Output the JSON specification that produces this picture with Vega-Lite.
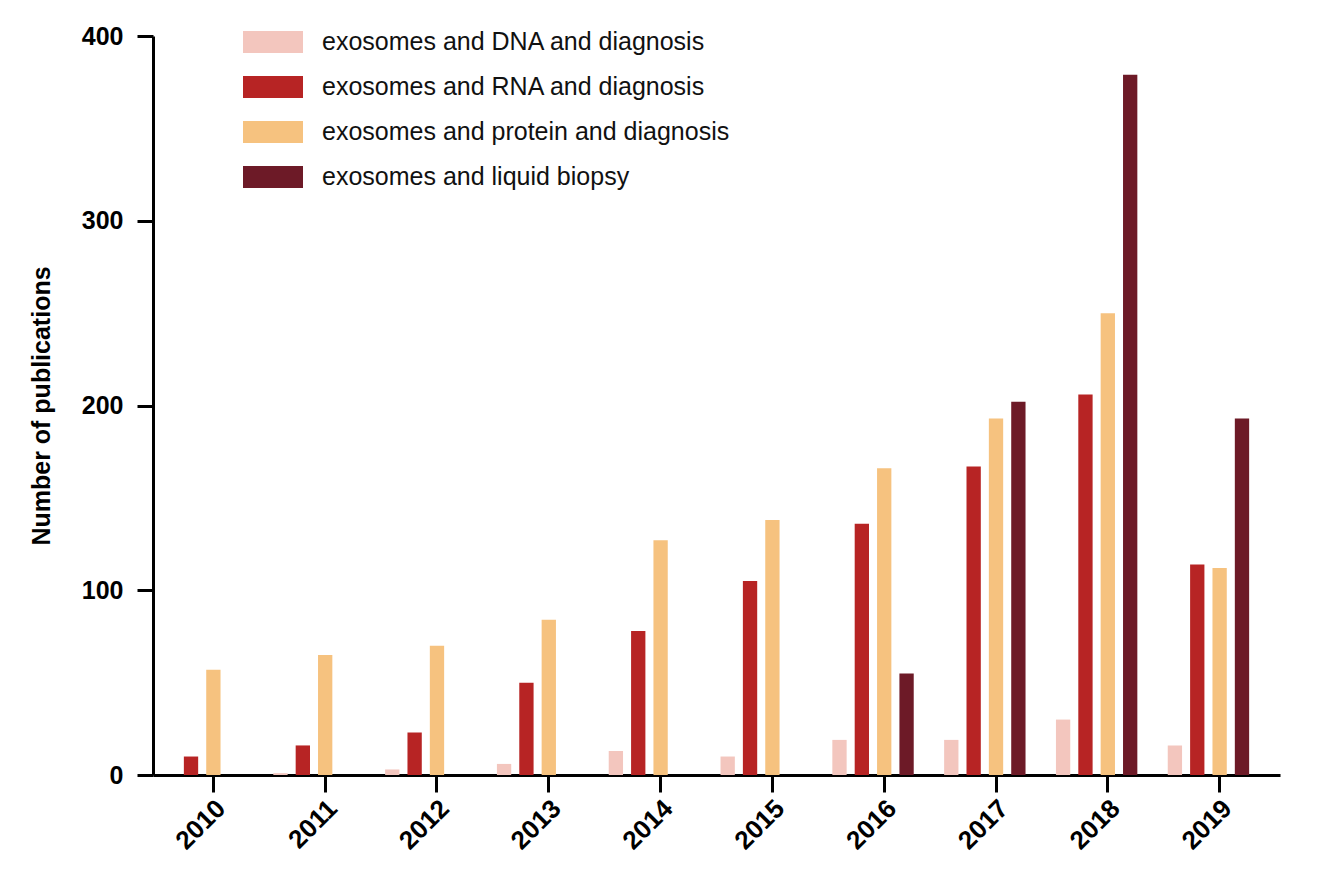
{
  "$schema": "https://vega.github.io/schema/vega-lite/v6.json",
  "width": 1127,
  "height": 739,
  "autosize": "none",
  "padding": {"left": 153, "top": 36, "right": 38, "bottom": 106},
  "background": "white",
  "config": {
    "view": {"stroke": null},
    "font": "Liberation Sans"
  },
  "data": {
    "values": [
      {"year": "2010", "query": "exosomes and DNA and diagnosis", "count": 0},
      {"year": "2010", "query": "exosomes and RNA and diagnosis", "count": 10},
      {"year": "2010", "query": "exosomes and protein and diagnosis", "count": 57},
      {"year": "2010", "query": "exosomes and liquid biopsy", "count": 0},
      {"year": "2011", "query": "exosomes and DNA and diagnosis", "count": 1},
      {"year": "2011", "query": "exosomes and RNA and diagnosis", "count": 16},
      {"year": "2011", "query": "exosomes and protein and diagnosis", "count": 65},
      {"year": "2011", "query": "exosomes and liquid biopsy", "count": 0},
      {"year": "2012", "query": "exosomes and DNA and diagnosis", "count": 3},
      {"year": "2012", "query": "exosomes and RNA and diagnosis", "count": 23},
      {"year": "2012", "query": "exosomes and protein and diagnosis", "count": 70},
      {"year": "2012", "query": "exosomes and liquid biopsy", "count": 0},
      {"year": "2013", "query": "exosomes and DNA and diagnosis", "count": 6},
      {"year": "2013", "query": "exosomes and RNA and diagnosis", "count": 50},
      {"year": "2013", "query": "exosomes and protein and diagnosis", "count": 84},
      {"year": "2013", "query": "exosomes and liquid biopsy", "count": 0},
      {"year": "2014", "query": "exosomes and DNA and diagnosis", "count": 13},
      {"year": "2014", "query": "exosomes and RNA and diagnosis", "count": 78},
      {"year": "2014", "query": "exosomes and protein and diagnosis", "count": 127},
      {"year": "2014", "query": "exosomes and liquid biopsy", "count": 0},
      {"year": "2015", "query": "exosomes and DNA and diagnosis", "count": 10},
      {"year": "2015", "query": "exosomes and RNA and diagnosis", "count": 105},
      {"year": "2015", "query": "exosomes and protein and diagnosis", "count": 138},
      {"year": "2015", "query": "exosomes and liquid biopsy", "count": 0},
      {"year": "2016", "query": "exosomes and DNA and diagnosis", "count": 19},
      {"year": "2016", "query": "exosomes and RNA and diagnosis", "count": 136},
      {"year": "2016", "query": "exosomes and protein and diagnosis", "count": 166},
      {"year": "2016", "query": "exosomes and liquid biopsy", "count": 55},
      {"year": "2017", "query": "exosomes and DNA and diagnosis", "count": 19},
      {"year": "2017", "query": "exosomes and RNA and diagnosis", "count": 167},
      {"year": "2017", "query": "exosomes and protein and diagnosis", "count": 193},
      {"year": "2017", "query": "exosomes and liquid biopsy", "count": 202},
      {"year": "2018", "query": "exosomes and DNA and diagnosis", "count": 30},
      {"year": "2018", "query": "exosomes and RNA and diagnosis", "count": 206},
      {"year": "2018", "query": "exosomes and protein and diagnosis", "count": 250},
      {"year": "2018", "query": "exosomes and liquid biopsy", "count": 379},
      {"year": "2019", "query": "exosomes and DNA and diagnosis", "count": 16},
      {"year": "2019", "query": "exosomes and RNA and diagnosis", "count": 114},
      {"year": "2019", "query": "exosomes and protein and diagnosis", "count": 112},
      {"year": "2019", "query": "exosomes and liquid biopsy", "count": 193}
    ]
  },
  "mark": {"type": "bar"},
  "encoding": {
    "x": {
      "field": "year",
      "type": "ordinal",
      "scale": {"paddingInner": 0, "paddingOuter": 0.04},
      "axis": {
        "title": null,
        "domainColor": "black",
        "domainWidth": 3,
        "tickColor": "black",
        "tickWidth": 3,
        "tickSize": 17,
        "labelAngle": -45,
        "labelAlign": "right",
        "labelBaseline": "middle",
        "labelPadding": 12,
        "labelOffset": 8,
        "labelFontSize": 26,
        "labelFontWeight": "bold",
        "labelColor": "black"
      }
    },
    "xOffset": {
      "field": "query",
      "scale": {
        "domain": [
          "exosomes and DNA and diagnosis",
          "exosomes and RNA and diagnosis",
          "exosomes and protein and diagnosis",
          "exosomes and liquid biopsy",
          "gap"
        ],
        "paddingInner": 0.36,
        "paddingOuter": 0.18
      }
    },
    "y": {
      "field": "count",
      "type": "quantitative",
      "scale": {"domain": [0, 400]},
      "axis": {
        "title": "Number of publications",
        "titleFontSize": 25,
        "titleFontWeight": "bold",
        "titleColor": "black",
        "titlePadding": 27,
        "values": [0, 100, 200, 300, 400],
        "grid": false,
        "domainColor": "black",
        "domainWidth": 3,
        "tickColor": "black",
        "tickWidth": 3,
        "tickSize": 16,
        "labelPadding": 14,
        "labelFontSize": 25,
        "labelFontWeight": "bold",
        "labelColor": "black"
      }
    },
    "color": {
      "field": "query",
      "type": "nominal",
      "scale": {
        "domain": [
          "exosomes and DNA and diagnosis",
          "exosomes and RNA and diagnosis",
          "exosomes and protein and diagnosis",
          "exosomes and liquid biopsy"
        ],
        "range": ["#F3C6BE", "#B72424", "#F6C27F", "#6D1A27"]
      },
      "legend": {
        "title": null,
        "orient": "none",
        "legendX": 90,
        "legendY": -5,
        "padding": 0,
        "symbolType": "M-1,-0.367H1V0.367H-1Z",
        "symbolSize": 3600,
        "symbolStrokeWidth": 0,
        "symbolOpacity": 1,
        "clipHeight": 22,
        "rowPadding": 20,
        "labelOffset": 19,
        "labelFontSize": 25,
        "labelColor": "#111111",
        "labelLimit": 600
      }
    }
  }
}
